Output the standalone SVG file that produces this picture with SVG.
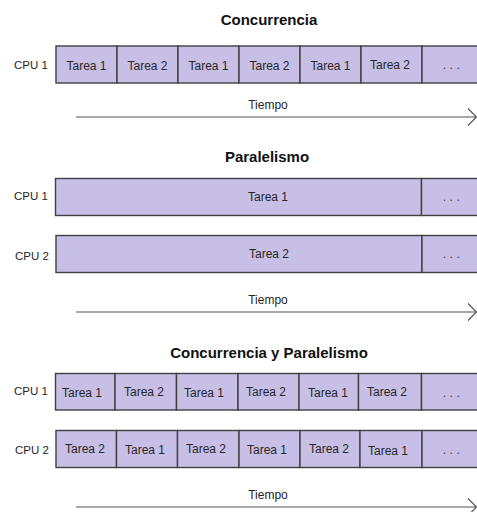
<svg xmlns="http://www.w3.org/2000/svg" width="477" height="512" viewBox="0 0 477 512">
<style>
.cell{fill:#c8bfe6;stroke:#404040;stroke-width:1.4}
.t{font-family:"Liberation Sans",Arial,sans-serif;font-size:12px;fill:#262626;text-anchor:middle}
.cpu{font-family:"Liberation Sans",Arial,sans-serif;font-size:11.5px;fill:#262626;text-anchor:middle}
.h{font-family:"Liberation Sans",Arial,sans-serif;font-size:15px;font-weight:bold;fill:#111;text-anchor:middle}
.dots{font-family:"Liberation Sans",Arial,sans-serif;font-size:12px;fill:#404040;text-anchor:middle;letter-spacing:3.5px}
.ax{stroke:#555;stroke-width:1.2;fill:none}
</style>
<rect width="477" height="512" fill="#fff"/>

<text class="h" x="269" y="25">Concurrencia</text>
<text class="h" x="267" y="162">Paralelismo</text>
<text class="h" x="269" y="358">Concurrencia y Paralelismo</text>

<g id="conc-cpu1">
<text class="cpu" x="31" y="69">CPU 1</text>
<rect class="cell" x="56" y="46" width="61" height="37"/>
<rect class="cell" x="117" y="46" width="61" height="37"/>
<rect class="cell" x="178" y="46" width="61" height="37"/>
<rect class="cell" x="239" y="46" width="61" height="37"/>
<rect class="cell" x="300" y="46" width="61" height="37"/>
<rect class="cell" x="361" y="46" width="61" height="37"/>
<rect class="cell" x="422" y="46" width="57" height="37"/>
<text class="t" x="86.5" y="70">Tarea 1</text>
<text class="t" x="147.5" y="70">Tarea 2</text>
<text class="t" x="208.5" y="70">Tarea 1</text>
<text class="t" x="269.5" y="70">Tarea 2</text>
<text class="t" x="330.5" y="70">Tarea 1</text>
<text class="t" x="390" y="69">Tarea 2</text>
<text class="dots" x="453" y="69">...</text>
</g>

<g id="par-cpu1">
<text class="cpu" x="31" y="200">CPU 1</text>
<rect class="cell" x="55.5" y="178.5" width="366" height="37"/>
<rect class="cell" x="421.5" y="178.5" width="57" height="37"/>
<text class="t" x="268" y="201">Tarea 1</text>
<text class="dots" x="453" y="201">...</text>
</g>

<g id="par-cpu2">
<text class="cpu" x="32" y="260">CPU 2</text>
<rect class="cell" x="56" y="235.5" width="366" height="37"/>
<rect class="cell" x="422" y="235.5" width="57" height="37"/>
<text class="t" x="269" y="258">Tarea 2</text>
<text class="dots" x="453" y="258">...</text>
</g>

<g id="cp-cpu1">
<text class="cpu" x="31" y="395">CPU 1</text>
<rect class="cell" x="55.5" y="373.5" width="59.5" height="36.5"/>
<rect class="cell" x="115" y="373.5" width="61.5" height="36.5"/>
<rect class="cell" x="176.5" y="373.5" width="61.5" height="36.5"/>
<rect class="cell" x="238" y="373.5" width="61" height="36.5"/>
<rect class="cell" x="299" y="373.5" width="59.5" height="36.5"/>
<rect class="cell" x="358.5" y="373.5" width="63" height="36.5"/>
<rect class="cell" x="421.5" y="373.5" width="57" height="36.5"/>
<text class="t" x="82" y="397">Tarea 1</text>
<text class="t" x="144" y="396">Tarea 2</text>
<text class="t" x="204" y="397">Tarea 1</text>
<text class="t" x="266" y="396">Tarea 2</text>
<text class="t" x="328" y="397">Tarea 1</text>
<text class="t" x="387" y="396">Tarea 2</text>
<text class="dots" x="453" y="397">...</text>
</g>

<g id="cp-cpu2">
<text class="cpu" x="32" y="454">CPU 2</text>
<rect class="cell" x="56" y="430.5" width="60.5" height="37"/>
<rect class="cell" x="116.5" y="430.5" width="61" height="37"/>
<rect class="cell" x="177.5" y="430.5" width="61.5" height="37"/>
<rect class="cell" x="239" y="430.5" width="61" height="37"/>
<rect class="cell" x="300" y="430.5" width="60" height="37"/>
<rect class="cell" x="360" y="430.5" width="62" height="37"/>
<rect class="cell" x="422" y="430.5" width="57" height="37"/>
<text class="t" x="85" y="453">Tarea 2</text>
<text class="t" x="145" y="454">Tarea 1</text>
<text class="t" x="206" y="453">Tarea 2</text>
<text class="t" x="267" y="454">Tarea 1</text>
<text class="t" x="329" y="453">Tarea 2</text>
<text class="t" x="388" y="455">Tarea 1</text>
<text class="dots" x="453" y="454">...</text>
</g>

<g id="connectors">
<text class="t" x="268" y="109">Tiempo</text>
<path class="ax" d="M76 117 H476.5 M468 108.5 L476.5 117 L468 125.5"/>
<text class="t" x="268" y="304">Tiempo</text>
<path class="ax" d="M76 312 H476.5 M468 303.5 L476.5 312 L468 320.5"/>
<text class="t" x="268" y="499">Tiempo</text>
<path class="ax" d="M76 507 H476.5 M468 498.5 L476.5 507 L468 515.5"/>
</g>
</svg>
